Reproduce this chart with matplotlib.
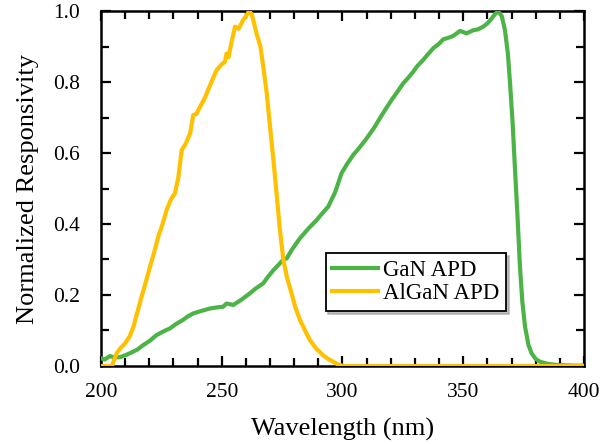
import matplotlib
matplotlib.use("Agg")
import matplotlib.pyplot as plt
from matplotlib.ticker import MultipleLocator

# GaN APD (wavelength nm, normalized responsivity)
gan_wl = [200, 201.5, 203.7, 205.5, 207.9, 210, 212, 215, 217.5, 220, 223, 226, 228.6, 231, 234, 236,
          238.2, 241, 245.1, 248, 250.6, 252, 254.8, 258, 261.7, 264, 267.2, 269, 271.4, 273.5, 275.5,
          276.9, 279, 282.4, 286, 289.3, 291, 294.1, 297, 299.6, 302, 304.4, 307, 310, 313, 315.5,
          318, 320.3, 323, 325.1, 327, 329.3, 331, 333.4, 335, 337.6, 340, 341.7, 344, 345.9, 348.7,
          351.4, 354.2, 356, 358.3, 360, 361.8, 363, 364.5, 366, 367.3, 368.5, 369.4, 370.5, 371.4,
          372.5, 373.5, 374.5, 375.6, 377, 378.3, 380, 381.8, 385, 388.7, 392, 396, 400]
gan_resp = [0.022, 0.018, 0.028, 0.024, 0.025, 0.03, 0.036, 0.046, 0.059, 0.07, 0.087, 0.098, 0.106,
            0.118, 0.13, 0.14, 0.148, 0.154, 0.162, 0.165, 0.167, 0.176, 0.172, 0.186, 0.205, 0.218,
            0.233, 0.25, 0.27, 0.285, 0.30, 0.303, 0.327, 0.36, 0.388, 0.411, 0.425, 0.449, 0.49, 0.543,
            0.57, 0.594, 0.615, 0.641, 0.67, 0.698, 0.725, 0.749, 0.775, 0.796, 0.81, 0.829, 0.845,
            0.862, 0.875, 0.895, 0.908, 0.92, 0.925, 0.93, 0.944, 0.937, 0.946, 0.948, 0.956, 0.965,
            0.979, 0.99, 1.0, 0.985, 0.946, 0.88, 0.796, 0.68, 0.561, 0.42, 0.28, 0.18, 0.111, 0.06,
            0.036, 0.02, 0.012, 0.006, 0.003, 0.002, 0.001, 0.001]

# AlGaN APD
algan_wl = [200, 202, 204.5, 206.5, 208, 210, 212, 213.4, 215, 216.8, 218.5, 220.3, 222, 223.7, 225.5,
            227.2, 229, 230.6, 232, 233.4, 235, 236.9, 238.2, 239.5, 241, 243, 245.1, 247.9, 250,
            251.3, 252, 252.8, 254, 255.5, 257, 258.9, 260, 261.3, 262.5, 264.4, 266, 267.2, 268.6,
            270, 271.4, 272.7, 274, 275.5, 277, 278.9, 280.5, 282.4, 284.5, 286.5, 289, 292, 294,
            296.2, 298, 300.3, 310, 330, 350, 370, 400]
algan_resp = [0.0, 0.0, 0.0, 0.036, 0.05, 0.064, 0.085, 0.11, 0.15, 0.195, 0.235, 0.28, 0.32, 0.364,
              0.40, 0.44, 0.47, 0.486, 0.53, 0.608, 0.625, 0.655, 0.707, 0.71, 0.73, 0.755, 0.79,
              0.834, 0.85, 0.857, 0.88, 0.87, 0.91, 0.956, 0.95, 0.975, 0.985, 1.0, 0.99, 0.937, 0.9,
              0.843, 0.77, 0.674, 0.58, 0.486, 0.39, 0.30, 0.25, 0.205, 0.165, 0.13, 0.1, 0.073,
              0.05, 0.03, 0.02, 0.012, 0.005, 0.0, 0.0, 0.0, 0.0, 0.0, 0.0]

plt.rcParams['font.family'] = ['Liberation Serif', 'DejaVu Serif']

fig = plt.figure(figsize=(6.02, 4.44), dpi=100)
ax = fig.add_axes([0.1678, 0.1757, 0.8022, 0.7995])

ax.plot(gan_wl, gan_resp, color='#4CB447', lw=3.0, label='GaN APD', zorder=3)
ax.plot(algan_wl, algan_resp, color='#FFC000', lw=3.0, label='AlGaN APD', zorder=3)

ax.set_xlim(200, 400)
ax.set_ylim(0, 1.0)
ax.xaxis.set_major_locator(MultipleLocator(50))
ax.xaxis.set_minor_locator(MultipleLocator(10))
ax.yaxis.set_major_locator(MultipleLocator(0.2))
ax.yaxis.set_minor_locator(MultipleLocator(0.1))
ax.yaxis.set_major_formatter(matplotlib.ticker.FormatStrFormatter('%.1f'))

ax.tick_params(which='both', direction='in', top=True, right=True, width=1.6, labelsize=15.5)
ax.tick_params(which='major', length=7)
ax.tick_params(which='minor', length=6)
ax.tick_params(axis='x', which='major', pad=12)
ax.tick_params(axis='y', which='major', pad=15)
for s in ax.spines.values():
    s.set_linewidth(1.8)

ax.set_xlabel('Wavelength (nm)', fontsize=19, labelpad=12)
ax.set_ylabel('Normalized Responsivity', fontsize=19, labelpad=10)

leg = ax.legend(loc='lower left', bbox_to_anchor=(0.465, 0.155), fontsize=16.5, frameon=True,
                fancybox=False, shadow={'color': '0.6', 'alpha': 0.6}, handlelength=2.0,
                handletextpad=0.2, borderpad=0.3, labelspacing=0.1, borderaxespad=0)
leg.get_frame().set_edgecolor('black')
leg.get_frame().set_linewidth(1.3)

fig.savefig('out.png', dpi=100)
